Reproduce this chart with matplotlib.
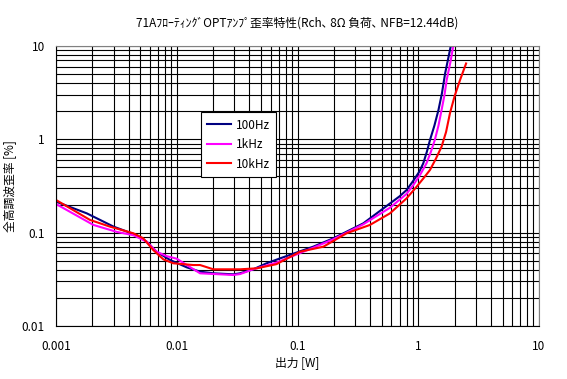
import numpy as np
import matplotlib
matplotlib.use("Agg")
import matplotlib.pyplot as plt

plt.rcParams['font.family'] = ['Noto Sans CJK JP', 'DejaVu Sans']

# 100Hz
x_100 = [0.001, 0.0018, 0.003, 0.00466, 0.00564, 0.0068, 0.0088, 0.0121, 0.0156, 0.0201,
         0.0294, 0.0334, 0.043, 0.0555, 0.0716, 0.135, 0.198, 0.351, 0.514, 0.70,
         0.80, 0.91, 1.02, 1.10, 1.18, 1.25, 1.36, 1.47, 1.57, 1.67, 1.86, 1.95]
y_100 = [0.215, 0.161, 0.116, 0.094, 0.080, 0.0625, 0.051, 0.0425, 0.0382, 0.0367,
         0.0358, 0.0367, 0.0405, 0.047, 0.053, 0.0708, 0.087, 0.126, 0.182, 0.245,
         0.286, 0.36, 0.45, 0.553, 0.74, 0.98, 1.4, 2.06, 3.1, 5.1, 10.0, 12.0]

# 1kHz
x_1k = [0.001, 0.00204, 0.00318, 0.00437, 0.00564, 0.0068, 0.00827, 0.01, 0.0121, 0.0156,
        0.0294, 0.0334, 0.043, 0.067, 0.135, 0.198, 0.351, 0.583, 0.80, 0.91,
        1.04, 1.17, 1.27, 1.37, 1.47, 1.56, 1.65, 1.72, 1.85, 1.95, 2.05]
y_1k = [0.203, 0.121, 0.102, 0.094, 0.080, 0.0625, 0.056, 0.0526, 0.045, 0.0367,
        0.0352, 0.036, 0.0405, 0.0478, 0.069, 0.085, 0.123, 0.185, 0.26, 0.324,
        0.42, 0.553, 0.73, 0.98, 1.4, 2.06, 3.0, 4.33, 6.8, 10.0, 12.0]

# 10kHz
x_10k = [0.001, 0.00191, 0.0028, 0.00437, 0.00528, 0.0064, 0.00774, 0.00936, 0.0137, 0.0156,
         0.0201, 0.0334, 0.046, 0.067, 0.105, 0.164, 0.255, 0.398, 0.583, 0.80,
         0.97, 1.10, 1.25, 1.40, 1.56, 1.70, 1.83, 2.0, 2.22, 2.49]
y_10k = [0.224, 0.137, 0.116, 0.0985, 0.087, 0.065, 0.0518, 0.047, 0.045, 0.045,
         0.0405, 0.0405, 0.0415, 0.046, 0.0625, 0.0708, 0.0985, 0.121, 0.161, 0.233,
         0.311, 0.38, 0.469, 0.62, 0.834, 1.2, 1.9, 2.9, 4.33, 6.5]

fig = plt.figure(figsize=(5.67, 3.79), dpi=100)
ax = fig.add_axes([56/567, 53/379, 483/567, 280/379])

ax.plot(x_100, y_100, color='#000080', lw=1.5, label='100Hz')
ax.plot(x_1k, y_1k, color='#FF00FF', lw=1.5, label='1kHz')
ax.plot(x_10k, y_10k, color='#FF0000', lw=1.5, label='10kHz')

ax.set_xscale('log')
ax.set_yscale('log')
ax.set_xlim(0.001, 10)
ax.set_ylim(0.01, 10)
ax.set_xticks([0.001, 0.01, 0.1, 1, 10])
ax.set_xticklabels(['0.001', '0.01', '0.1', '1', '10'])
ax.set_yticks([0.01, 0.1, 1, 10])
ax.set_yticklabels(['0.01', '0.1', '1', '10'])
ax.grid(True, which='both', color='black', lw=0.8)
ax.tick_params(which='both', length=0, labelsize=8.5)
ax.tick_params(axis='x', pad=10)
ax.tick_params(axis='y', pad=8)
for s in ['top', 'right']:
    ax.spines[s].set_color('#808080')
for s in ['left', 'bottom']:
    ax.spines[s].set_color('black')

ax.set_xlabel('出力 [W]', fontsize=8.5, labelpad=2)
ax.set_ylabel('全高調波歪率 [%]', fontsize=8.5, labelpad=4)
ax.set_title('71AﾌﾛｰﾃｨﾝｸﾞOPTｱﾝﾌﾟ歪率特性(Rch､ 8Ω 負荷､ NFB=12.44dB)', fontsize=8.5, pad=14)

leg = ax.legend(loc='upper left', bbox_to_anchor=(0.30, 0.764), fontsize=8.5,
                frameon=True, fancybox=False, framealpha=1, edgecolor='black',
                handlelength=2.0, handletextpad=0.4, labelspacing=0.55,
                borderpad=0.55, borderaxespad=0)
leg.get_frame().set_linewidth(0.8)

fig.savefig('out.png', dpi=100, facecolor='white')
